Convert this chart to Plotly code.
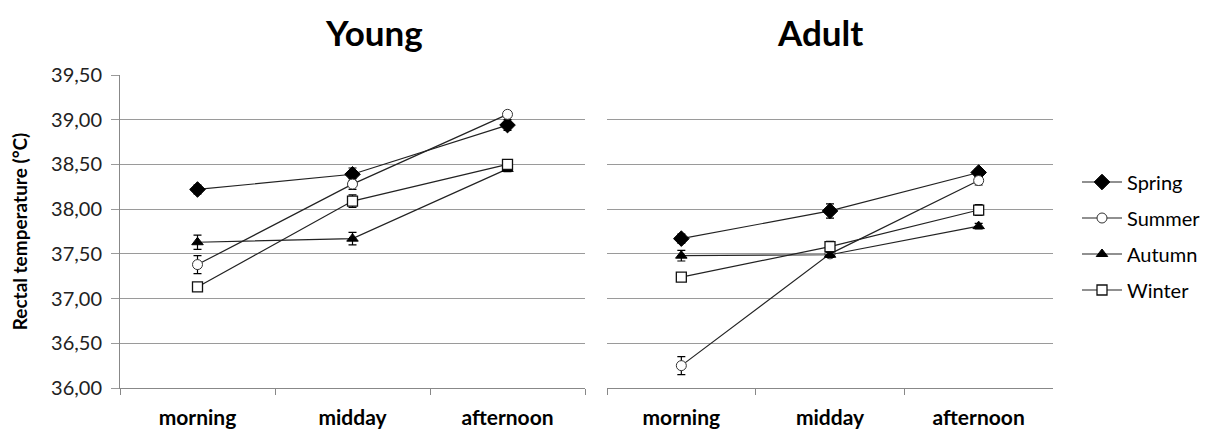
import plotly.graph_objects as go

periods = ["morning", "midday", "afternoon"]
seasons = ["Spring", "Summer", "Autumn", "Winter"]

young_spring = [38.22, 38.39, 38.94]
young_summer = [37.38, 38.28, 39.06]
young_autumn = [37.63, 37.67, 38.45]
young_winter = [37.13, 38.09, 38.50]

adult_spring = [37.67, 37.98, 38.41]
adult_summer = [36.25, 37.50, 38.32]
adult_autumn = [37.48, 37.49, 37.81]
adult_winter = [37.24, 37.58, 37.99]

young_spring_err = [0.05, 0.07, 0.06]
young_summer_err = [0.10, 0.06, 0.03]
young_autumn_err = [0.08, 0.07, 0.03]
young_winter_err = [0.03, 0.07, 0.05]

adult_spring_err = [0.05, 0.08, 0.04]
adult_summer_err = [0.10, 0.03, 0.05]
adult_autumn_err = [0.06, 0.03, 0.03]
adult_winter_err = [0.03, 0.06, 0.06]

y_ticks = [36.0, 36.5, 37.0, 37.5, 38.0, 38.5, 39.0, 39.5]

FONT = "Lato"
styles = {
    "Spring": dict(symbol="diamond", size=12, color="black", line=dict(color="black", width=1)),
    "Summer": dict(symbol="circle", size=10, color="white", line=dict(color="#333333", width=1)),
    "Autumn": dict(symbol="triangle-up", size=10, color="black", line=dict(color="black", width=1)),
    "Winter": dict(symbol="square", size=10, color="white", line=dict(color="#111111", width=1.3)),
}

young = {"Spring": (young_spring, young_spring_err), "Summer": (young_summer, young_summer_err),
         "Autumn": (young_autumn, young_autumn_err), "Winter": (young_winter, young_winter_err)}
adult = {"Spring": (adult_spring, adult_spring_err), "Summer": (adult_summer, adult_summer_err),
         "Autumn": (adult_autumn, adult_autumn_err), "Winter": (adult_winter, adult_winter_err)}

fig = go.Figure()
for panel, data, xa, ya in [(0, young, "x", "y"), (1, adult, "x2", "y2")]:
    for s in seasons:
        vals, errs = data[s]
        fig.add_trace(go.Scatter(
            x=periods, y=vals, mode="lines+markers", name=s, legendgroup=s,
            xaxis=xa, yaxis=ya, showlegend=(panel == 0),
            line=dict(color="#222222", width=1.2),
            marker=styles[s],
            error_y=dict(type="data", array=errs, visible=True, color="black", thickness=1.2, width=4),
        ))

# page body has an 8px margin, so pixel positions are offset by 8
OFF = 8
W, H = 1216 - OFF, 442 - OFF
def px(x):
    return (x - OFF) / W
def py(y):
    return 1 - (y - OFF) / H

ydom = [py(388), py(75)]
axis_common = dict(type="category", tickson="boundaries", ticks="outside", ticklen=6,
                   tickcolor="#888888", showline=True, linecolor="#888888", linewidth=1,
                   showgrid=False, range=[-0.5, 2.5], automargin=False, ticklabelstandoff=11,
                   tickfont=dict(family=FONT, size=21, color="black", weight="bold"))
yaxis_common = dict(range=[36.0, 39.5], tickvals=y_ticks, tickformat=".2f", showgrid=True,
                    gridcolor="#9a9a9a", gridwidth=1, zeroline=False, automargin=False)

fig.update_layout(
    width=W, height=H,
    margin=dict(l=0, r=0, t=0, b=0),
    paper_bgcolor="white", plot_bgcolor="white",
    separators=",.",
    font=dict(family=FONT, color="black"),
    xaxis=dict(domain=[px(120), px(585)], **axis_common),
    xaxis2=dict(domain=[px(607), px(1053)], **axis_common),
    yaxis=dict(domain=ydom, showline=True, linecolor="#888888", ticks="outside", ticklen=8,
               tickcolor="#9a9a9a", ticklabelstandoff=5,
               tickfont=dict(family=FONT, size=20, color="#222222"),
               title=dict(text="Rectal temperature (°C)", standoff=26,
                          font=dict(family=FONT, size=19, color="black", weight="bold")),
               **yaxis_common),
    yaxis2=dict(domain=ydom, anchor="x2", showline=False, showticklabels=False, ticks="",
                **yaxis_common),
    legend=dict(x=px(1077), y=py(236), xanchor="left", yanchor="middle",
                font=dict(family=FONT, size=20, color="black"),
                itemwidth=40, traceorder="grouped", tracegroupgap=7,
                bgcolor="rgba(0,0,0,0)"),
    annotations=[
        dict(text="<b>Young</b>", x=px(374), y=py(32), xref="paper", yref="paper",
             xanchor="center", yanchor="middle",
             showarrow=False, font=dict(family=FONT, size=35, color="black")),
        dict(text="<b>Adult</b>", x=px(820), y=py(32), xref="paper", yref="paper",
             xanchor="center", yanchor="middle",
             showarrow=False, font=dict(family=FONT, size=35, color="black")),
    ],
)

fig.write_html("out.html")
